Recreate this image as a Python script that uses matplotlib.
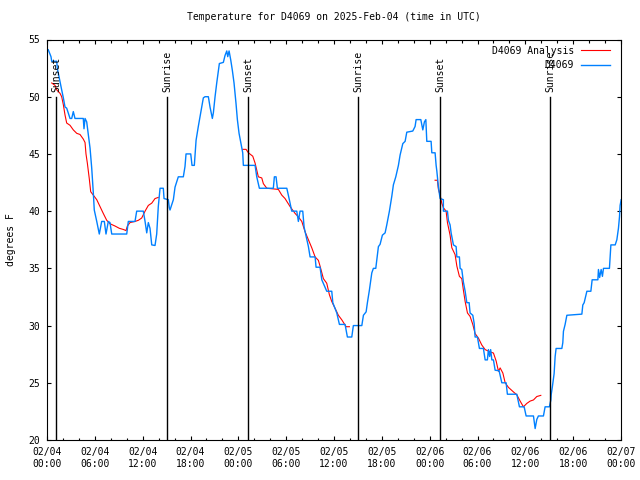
import numpy as np
import pandas as pd
import matplotlib
matplotlib.use('Agg')
import matplotlib.pyplot as plt
import matplotlib.dates as mdates

# hours since 2025-02-04 00:00 UTC
obs_hours = [0.16, 0.50, 0.59, 1.22, 1.29, 1.63, 1.84, 2.05, 2.26, 2.47, 2.89, 3.10, 3.30, 3.51,
             4.55, 4.64, 4.77, 4.98, 5.18, 5.40, 5.61, 5.81, 5.93, 6.24, 6.56, 6.86, 7.19, 7.40,
             7.69, 7.90, 8.12, 10.0, 10.2, 11.04, 11.25, 12.08, 12.30, 12.51, 12.71, 12.92, 13.14,
             13.55, 13.76, 13.96, 14.18, 14.59, 14.68, 15.22, 15.34, 15.43, 15.85, 16.06, 16.47,
             17.10, 17.31, 17.44, 18.03, 18.19, 18.48, 18.70, 18.98, 19.28, 19.61, 19.82, 20.24,
             20.45, 20.74, 20.87, 21.08, 21.29, 21.62, 22.12, 22.33, 22.55, 22.67, 22.84, 23.05,
             23.25, 23.46, 23.71, 23.88, 24.09, 24.34, 24.55, 24.63, 26.10, 26.31, 26.64, 28.39,
             28.52, 28.73, 28.90, 30.08, 30.40, 30.70, 31.33, 31.53, 31.74, 32.08, 32.25, 32.50,
             32.79, 33.00, 33.63, 33.75, 34.25, 34.47, 35.09, 35.72, 35.85, 36.35, 36.68, 37.39,
             37.68, 38.23, 38.43, 39.49, 39.69, 40.03, 40.19, 40.44, 40.74, 40.94, 41.24, 41.57,
             41.78, 42.07, 42.41, 42.62, 42.95, 43.25, 43.45, 43.75, 44.08, 44.29, 44.63, 44.92,
             45.13, 45.88, 46.17, 46.30, 46.89, 47.14, 47.34, 47.52, 47.64, 48.18, 48.27, 48.68,
             48.81, 48.90, 49.10, 49.31, 49.72, 49.72, 50.23, 50.35, 50.56, 50.69, 50.98, 51.32,
             51.41, 51.73, 51.82, 52.03, 52.23, 52.45, 52.66, 52.95, 53.07, 53.41, 53.58, 53.70,
             53.99, 54.24, 54.74, 54.96, 55.24, 55.37, 55.52, 55.65, 55.80, 56.00, 56.21, 56.71,
             57.05, 57.59, 57.75, 58.93, 59.26, 59.85, 60.10, 61.02, 61.23, 61.44, 61.64, 62.27,
             62.48, 63.02, 63.20, 63.24, 63.40, 63.61, 63.74, 63.86, 64.58, 64.70, 64.78, 64.99,
             65.21, 67.09, 67.21, 67.38, 67.72, 68.22, 68.38, 69.10, 69.17, 69.32, 69.51, 69.67,
             69.80, 70.55, 70.73, 71.27, 71.48, 71.68, 71.81, 71.89, 72.02]
obs_temp = [54.1, 53.5, 53.1, 53.1, 52.5, 51.3, 50.6, 49.9, 49.1, 49.0, 48.1, 48.1, 48.7, 48.1,
            48.1, 47.2, 48.1, 47.8, 46.7, 45.5, 43.75, 41.6, 40.1, 39.1, 38.0, 39.1, 39.1, 38.0,
            39.1, 39.0, 38.0, 38.0, 39.1, 39.1, 40.0, 40.0, 39.1, 38.1, 39.0, 38.5, 37.05,
            37.0, 38.0, 40.4, 42.0, 42.0, 41.1, 41.0, 40.3, 40.1, 41.0, 42.1, 43.0,
            43.0, 43.9, 45.0, 45.0, 44.0, 44.0, 46.2, 47.4, 48.6, 49.9, 50.0, 50.0,
            49.1, 48.1, 48.6, 50.0, 51.2, 52.9, 53.0, 53.6, 54.0, 53.5, 54.0, 53.2,
            52.3, 51.2, 49.4, 48.0, 46.8, 45.9, 45.1, 44.0, 44.0, 43.0, 42.0, 42.0,
            43.0, 43.0, 42.0, 42.0, 41.0, 40.0, 40.0, 39.1, 40.0, 40.0, 38.6, 37.8,
            36.9, 36.0, 36.0, 35.1, 35.1, 34.0, 33.0, 33.0, 32.0, 31.1, 30.1, 30.1,
            29.0, 29.0, 30.0, 30.0, 30.9, 31.2, 32.0, 33.1, 34.6, 35.0, 35.0, 36.9,
            37.1, 37.9, 38.1, 38.8, 40.0, 41.3, 42.3, 43.0, 44.0, 44.9, 45.9, 46.1,
            46.9, 47.0, 47.4, 48.0, 48.0, 47.1, 47.8, 48.0, 46.1, 46.1, 45.1, 45.1,
            44.0, 43.5, 42.1, 41.1, 41.0, 40.0, 40.0, 39.2, 38.8, 38.1, 37.05, 36.9,
            36.0, 36.0, 35.0, 34.9, 33.8, 33.0, 32.0, 32.0, 31.1, 30.9, 30.2, 29.0,
            29.0, 28.0, 28.0, 27.0, 27.0, 27.9, 27.3, 27.9, 27.0, 27.0, 26.1, 26.05,
            25.0, 25.0, 24.0, 24.0, 22.9, 22.9, 22.1, 22.1, 21.0, 21.8, 22.1, 22.1,
            22.9, 22.9, 23.5, 23.95, 24.7, 25.8, 27.3, 28.0, 28.0, 28.5, 29.5, 30.1,
            30.9, 31.0, 31.8, 32.0, 33.0, 33.0, 34.0, 34.0, 34.9, 34.2, 34.9, 34.3,
            35.0, 35.0, 37.05, 37.05, 37.5, 38.5, 39.5, 40.5, 41.0]

# analysis, three separate pieces
ana1_hours = [0.59, 1.00, 1.22, 1.63, 1.84, 2.05, 2.26, 2.47, 2.89, 3.30, 3.73, 4.14, 4.55, 4.77,
              4.89, 5.06, 5.31, 5.48, 5.81, 6.24, 6.65, 7.06, 7.49, 7.90, 8.53, 9.07, 9.57, 9.91,
              10.08, 10.41, 11.04, 11.46, 11.88, 12.30, 12.71, 13.14, 13.55, 13.96]
ana1_temp = [51.2, 51.0, 50.6, 50.3, 50.0, 49.3, 48.4, 47.7, 47.5, 47.1, 46.8, 46.7, 46.3, 46.0,
             45.0, 44.2, 42.8, 41.7, 41.4, 41.0, 40.4, 39.8, 39.2, 38.9, 38.7, 38.5, 38.4, 38.3,
             38.7, 39.0, 39.1, 39.2, 39.4, 40.0, 40.5, 40.7, 41.1, 41.2]
ana2_hours = [24.55, 24.97, 25.26, 25.81, 26.10, 26.51, 26.94, 27.14, 27.57, 29.02, 29.45, 29.86,
              30.49, 31.12, 31.53, 31.96, 32.37, 32.79, 33.21, 33.63, 34.04, 34.25, 34.67, 35.09,
              35.42, 35.72, 36.14, 36.55, 36.98, 37.52, 37.93]
ana2_temp = [45.4, 45.4, 45.1, 44.8, 44.2, 43.0, 42.9, 42.4, 42.0, 41.9, 41.4, 41.1,
             40.4, 39.8, 39.5, 39.1, 38.2, 37.5, 36.8, 36.0, 35.7, 35.2, 34.1, 33.7,
             32.7, 32.1, 31.5, 30.9, 30.5, 29.9, 29.9]
ana3_hours = [48.68, 48.97, 49.10, 49.31, 49.52, 49.72, 50.06, 50.23, 50.56, 50.78, 51.19, 51.41,
              51.73, 52.03, 52.23, 52.45, 52.74, 53.07, 53.41, 53.70, 54.12, 54.54, 54.96, 55.58,
              56.00, 56.34, 56.63, 56.84, 57.18, 57.47, 57.88, 58.51, 58.93, 59.35, 59.76, 60.19,
              60.60, 61.02, 61.44, 61.94]
ana3_temp = [42.7, 42.7, 41.9, 41.4, 40.7, 40.3, 40.0, 39.0, 37.9, 36.8, 36.2, 35.2,
             34.3, 34.1, 33.1, 32.1, 31.1, 30.8, 30.1, 29.3, 28.9, 28.3, 27.9, 27.7,
             27.6, 26.9, 26.0, 26.3, 25.85, 25.0, 24.6, 24.2, 23.95, 23.4, 22.9, 23.2,
             23.4, 23.5, 23.8, 23.9]

sun_hours = [1.13, 15.09, 25.26, 39.06, 49.35, 63.15]
sun_labels = ['Sunset', 'Sunrise', 'Sunset', 'Sunrise', 'Sunset', 'Sunrise']

start = pd.Timestamp('2025-02-04 00:00')


def to_time(hours):
    return start + pd.to_timedelta(np.array(hours), unit='h')


plt.rcParams['font.family'] = 'DejaVu Sans Mono'
plt.rcParams['font.size'] = 7

fig = plt.figure(figsize=(6.4, 4.8), dpi=100)
ax = fig.add_axes([47 / 640, 40 / 480, 574 / 640, 400.5 / 480])

ana_col = '#ff0000'
obs_col = '#0080ff'
ax.plot(to_time(ana1_hours), ana1_temp, color=ana_col, lw=0.8, label='D4069 Analysis')
ax.plot(to_time(ana2_hours), ana2_temp, color=ana_col, lw=0.8)
ax.plot(to_time(ana3_hours), ana3_temp, color=ana_col, lw=0.8)
ax.plot(to_time(obs_hours), obs_temp, color=obs_col, lw=1.0, label='D4069')

for h, lab in zip(sun_hours, sun_labels):
    t = to_time([h])[0]
    ax.plot([t, t], [20, 50], color='black', lw=1.0)
    ax.text(t, 50.4, lab, rotation=90, ha='center', va='bottom', fontsize=7)

ax.set_xlim(start, start + pd.Timedelta(hours=72))
ax.set_ylim(20, 55)
ax.set_yticks(np.arange(20, 56, 5))
ax.xaxis.set_major_locator(mdates.HourLocator(byhour=[0, 6, 12, 18]))
ax.xaxis.set_minor_locator(mdates.HourLocator(interval=2))
ax.xaxis.set_major_formatter(mdates.DateFormatter('%m/%d\n%H:%M'))
ax.tick_params(which='both', direction='in', top=True, right=True, width=0.8)
ax.tick_params(which='major', length=3.2, pad=5)
ax.tick_params(which='minor', length=1.8)
for s in ax.spines.values():
    s.set_linewidth(0.8)

ax.set_title('Temperature for D4069 on 2025-Feb-04 (time in UTC)', fontsize=7, pad=14)
ax.set_ylabel('degrees F', labelpad=9)

ax.legend(loc='upper right', bbox_to_anchor=(0.989, 0.997), frameon=False,
          markerfirst=False, fontsize=7, handlelength=3.0, handletextpad=0.7,
          labelspacing=0.45, borderaxespad=0.3, borderpad=0.2)

fig.savefig('out.png', dpi=100)
